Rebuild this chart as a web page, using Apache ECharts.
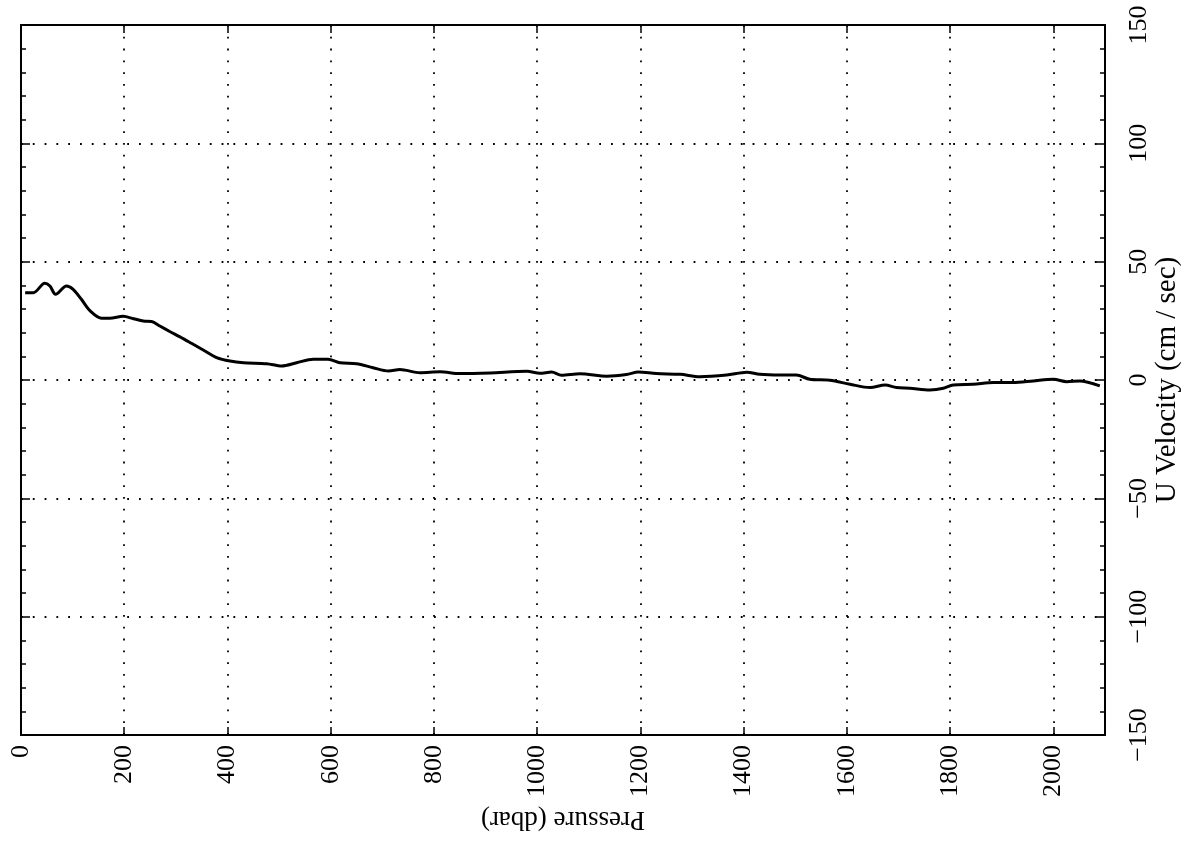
<!DOCTYPE html>
<html>
<head>
<meta charset="utf-8">
<script src="https://cdn.jsdelivr.net/npm/echarts@6/dist/echarts.min.js"></script>
<style>
html,body{margin:0;padding:0;background:#fff;}
#chart{width:1188px;height:843px;}
</style>
</head>
<body>
<div id="chart"></div>
<script>
const pressure = [8, 24, 46, 56, 67, 88, 101, 117, 134, 156, 172, 198, 218, 237, 253, 269, 289, 308, 331, 353, 379, 405, 431, 476, 505, 534, 566, 595, 618, 650, 682, 712, 734, 773, 812, 850, 909, 980, 1005, 1028, 1047, 1083, 1135, 1173, 1196, 1231, 1277, 1315, 1367, 1406, 1431, 1470, 1502, 1528, 1567, 1606, 1645, 1674, 1696, 1722, 1761, 1787, 1806, 1845, 1884, 1922, 1961, 2000, 2026, 2051, 2090];
const velocity = [36.9, 36.9, 40.9, 39.7, 36.2, 39.7, 38.3, 34.1, 29.2, 26.1, 26.1, 26.9, 25.9, 24.9, 24.7, 22.8, 20.4, 18.2, 15.4, 12.7, 9.5, 8.0, 7.3, 6.9, 5.9, 7.3, 8.8, 8.8, 7.3, 6.9, 5.2, 3.8, 4.4, 3.1, 3.5, 2.7, 3.0, 3.7, 2.8, 3.4, 2.0, 2.6, 1.6, 2.3, 3.4, 2.7, 2.4, 1.4, 2.1, 3.3, 2.4, 2.1, 2.1, 0.3, -0.1, -1.8, -3.2, -2.1, -3.2, -3.5, -4.2, -3.5, -2.1, -1.8, -1.1, -1.1, -0.4, 0.3, -0.7, -0.4, -2.5];
const xTitle = 'Pressure (dbar)';
const yTitle = 'U Velocity (cm / sec)';

const font = "'Liberation Serif', 'Times New Roman', serif";
const dotted = {color: '#000', width: 1.8, type: [1.8, 10]};
const frameLine = {show: true, onZero: false, lineStyle: {color: '#000', width: 2}};

const chart = echarts.init(document.getElementById('chart'));
chart.setOption({
  animation: false,
  backgroundColor: '#fff',
  grid: {left: 21, right: 83, top: 25, bottom: 108, containLabel: false, outerBoundsMode: 'none'},
  xAxis: [{
    type: 'value', position: 'bottom', min: 0, max: 2100, interval: 200,
    name: xTitle, nameLocation: 'middle', nameGap: 71, nameRotate: 180,
    nameTextStyle: {fontFamily: font, fontSize: 27, color: '#000'},
    axisLine: frameLine,
    axisTick: {show: true, inside: true, length: 8, lineStyle: {color: '#000', width: 1.5}},
    axisLabel: {rotate: 90, margin: 10, showMaxLabel: false, fontFamily: font, fontSize: 26, color: '#000',
      formatter: v => String(v)},
    splitLine: {show: true, lineStyle: dotted}
  }, {
    type: 'value', position: 'top', min: 0, max: 2100, interval: 200,
    axisLine: frameLine,
    axisTick: {show: true, inside: true, length: 8, lineStyle: {color: '#000', width: 1.5}},
    axisLabel: {show: false},
    splitLine: {show: false}
  }],
  yAxis: [{
    type: 'value', position: 'right', min: -150, max: 150, interval: 50,
    name: yTitle, nameLocation: 'middle', nameGap: 48, nameRotate: 90, nameMoveOverlap: false,
    nameTextStyle: {fontFamily: font, fontSize: 29, color: '#000'},
    axisLine: frameLine,
    axisTick: {show: true, inside: true, length: 9, lineStyle: {color: '#000', width: 1.5}},
    minorTick: {show: true, splitNumber: 5, length: 5, lineStyle: {color: '#000', width: 1.5}},
    axisLabel: {rotate: 90, margin: 21, fontFamily: font, fontSize: 26, color: '#000',
      formatter: v => String(v).replace('-', '\u2212')},
    splitLine: {show: true, lineStyle: dotted}
  }, {
    type: 'value', position: 'left', min: -150, max: 150, interval: 50,
    axisLine: frameLine,
    axisTick: {show: true, inside: true, length: 9, lineStyle: {color: '#000', width: 1.5}},
    minorTick: {show: true, splitNumber: 5, length: 5, lineStyle: {color: '#000', width: 1.5}},
    axisLabel: {show: false},
    splitLine: {show: false}
  }],
  series: [{
    type: 'line',
    xAxisIndex: 0, yAxisIndex: 0,
    data: pressure.map((p, i) => [p, velocity[i]]),
    showSymbol: false,
    smooth: 0.3,
    lineStyle: {color: '#000', width: 3}
  }]
});
</script>
</body>
</html>
